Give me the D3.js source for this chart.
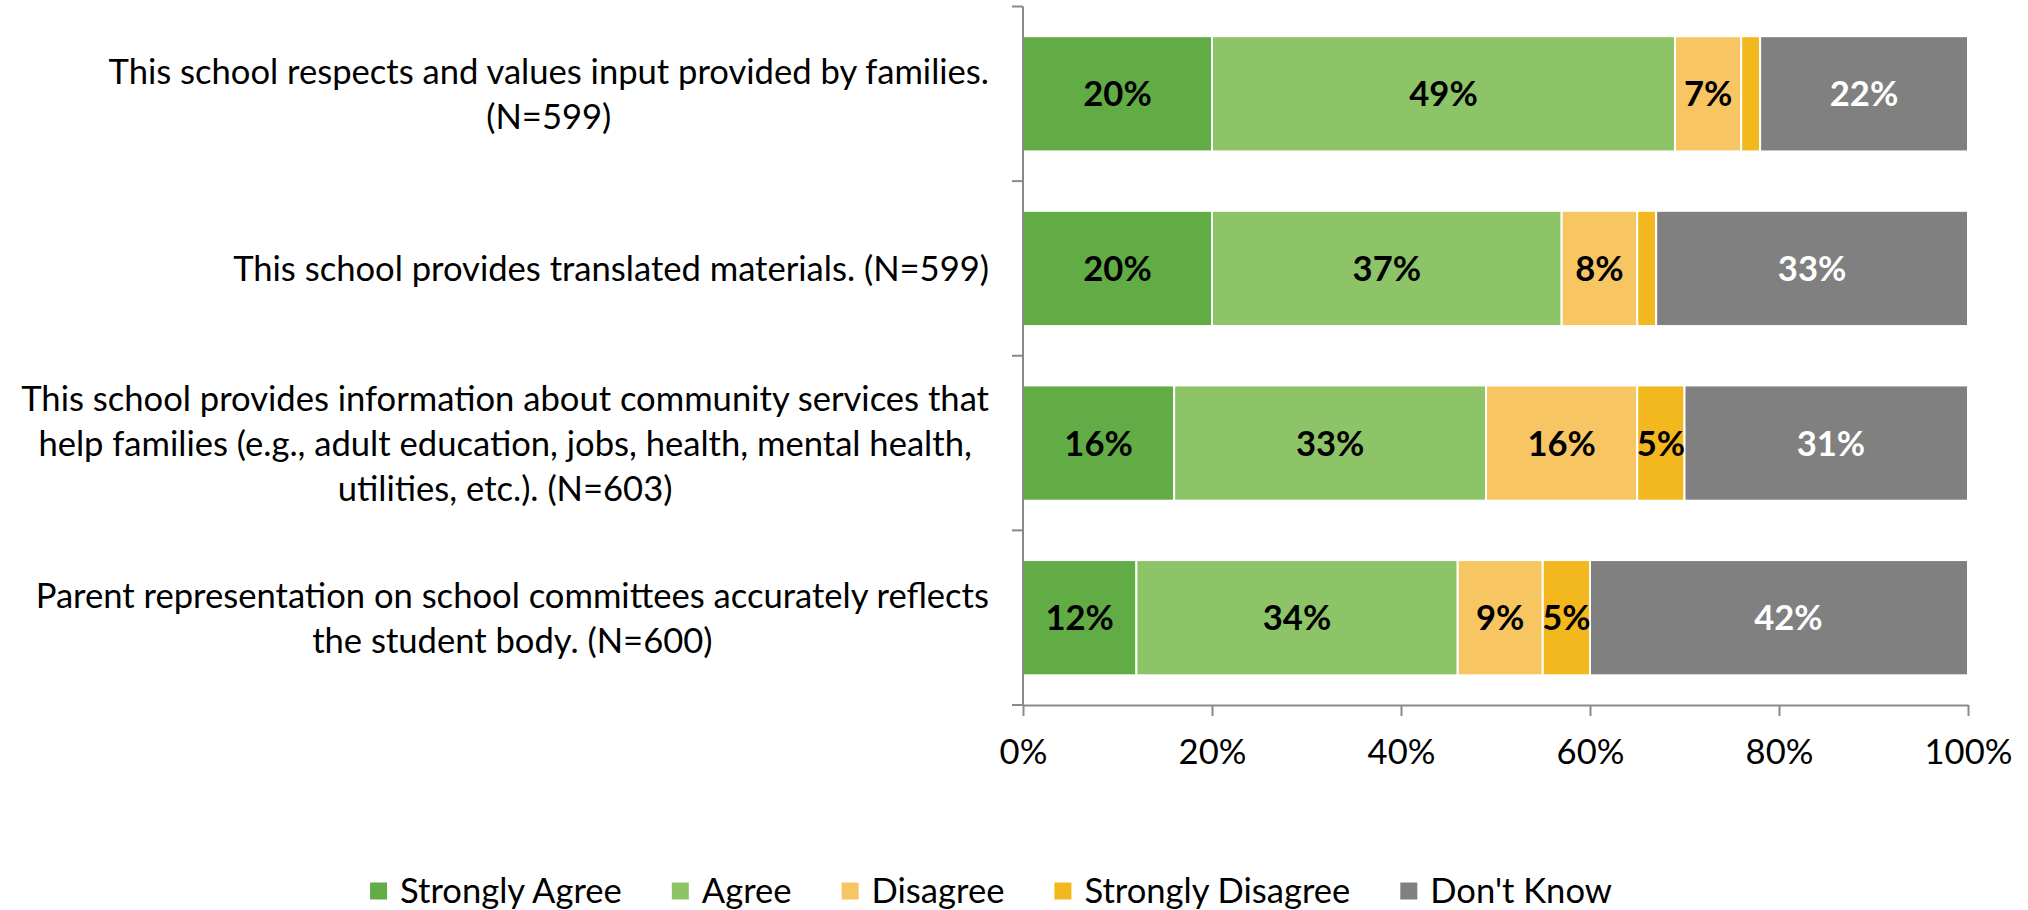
<!DOCTYPE html>
<html>
<head>
<meta charset="utf-8">
<script src="https://cdn.jsdelivr.net/npm/d3@7"></script>
<style>
  html, body { margin: 0; padding: 0; background: #fff; }
  svg { display: block; font-family: Lato, "Noto Sans", sans-serif; }
</style>
</head>
<body>
<svg id="chart" width="2028" height="910"></svg>
<script>
// ---- data ----
const categories = [
  ["This school respects and values input provided by families.", "(N=599)"],
  ["This school provides translated materials. (N=599)"],
  ["This school provides information about community services that",
   "help families (e.g., adult education, jobs, health, mental health,",
   "utilities, etc.). (N=603)"],
  ["Parent representation on school committees accurately reflects",
   "the student body. (N=600)"]
];
const seriesNames = ["Strongly Agree", "Agree", "Disagree", "Strongly Disagree", "Don't Know"];
const stronglyAgree    = [20, 20, 16, 12];
const agree            = [49, 37, 33, 34];
const disagree         = [7, 8, 16, 9];
const stronglyDisagree = [2, 2, 5, 5];
const dontKnow         = [22, 33, 31, 42];
const tickValues = [0, 20, 40, 60, 80, 100];
const tickLabels = ["0%", "20%", "40%", "60%", "80%", "100%"];

const seriesValues = [stronglyAgree, agree, disagree, stronglyDisagree, dontKnow];
const colors = ["#62AC46", "#8DC467", "#F7C663", "#F2B81E", "#808080"];
const labelColors = ["#000", "#000", "#000", "#000", "#fff"];

// ---- layout ----
const FS = 34.6;
const axisColor = "#8a8a8a";
const svg = d3.select("#chart");
const plot = { left: 1023, right: 1968, top: 6.5, bottom: 705 };

const x = d3.scaleLinear().domain([0, 100]).range([plot.left, plot.right]).clamp(true);
const xRaw = x.copy().clamp(false);
const y = d3.scaleBand().domain(d3.range(categories.length))
  .range([plot.top, plot.bottom]).paddingInner(0.34).paddingOuter(0.17);

// stacked data
const rows = categories.map((c, i) => {
  let acc = 0;
  return seriesValues.map((vals, s) => {
    const d = { row: i, series: s, value: vals[i], x0: acc, x1: acc + vals[i] };
    acc += vals[i];
    return d;
  });
});
const segs = rows.flat();

// bars
svg.append("g").selectAll("rect").data(segs).join("rect")
  .attr("x", d => x(d.x0))
  .attr("y", d => y(d.row))
  .attr("width", d => Math.max(0, x(d.x1) - x(d.x0)))
  .attr("height", y.bandwidth())
  .attr("fill", d => colors[d.series])
  .attr("stroke", "#fff")
  .attr("stroke-width", 2);

// bar labels
svg.append("g").selectAll("text").data(segs.filter(d => d.value >= 3)).join("text")
  .attr("x", d => (xRaw(d.x0) + xRaw(d.x1)) / 2)
  .attr("y", d => y(d.row) + y.bandwidth() / 2)
  .attr("dy", "0.36em")
  .attr("text-anchor", "middle")
  .attr("font-size", FS)
  .attr("font-weight", "bold")
  .attr("fill", d => labelColors[d.series])
  .text(d => d.value + "%");

// x axis
const xAxis = d3.axisBottom(x).tickValues(tickValues)
  .tickFormat((d, i) => tickLabels[i]).tickSizeInner(11).tickSizeOuter(0).tickPadding(23);
const gx = svg.append("g").attr("transform", `translate(0,${plot.bottom})`).call(xAxis);
gx.select(".domain").attr("stroke", axisColor).attr("stroke-width", 2);
gx.selectAll(".tick line").attr("stroke", axisColor).attr("stroke-width", 2);
gx.selectAll(".tick text").attr("font-size", FS).attr("fill", "#000")
  .attr("font-family", "Lato, 'Noto Sans', sans-serif");

// y axis (category axis with boundary ticks)
const gy = svg.append("g");
gy.append("line").attr("x1", plot.left).attr("x2", plot.left)
  .attr("y1", plot.top).attr("y2", plot.bottom)
  .attr("stroke", axisColor).attr("stroke-width", 2);
const bounds = d3.range(categories.length + 1).map(i => y.range()[0] + i * y.step());
gy.selectAll("line.tk").data(bounds).join("line").attr("class", "tk")
  .attr("x1", plot.left - 11).attr("x2", plot.left)
  .attr("y1", d => d).attr("y2", d => d)
  .attr("stroke", axisColor).attr("stroke-width", 2);

// category labels (centered lines, block right-aligned)
const lineH = 45;
const labelRight = 989;
categories.forEach((lines, i) => {
  const g = svg.append("g");
  const cy = y(i) + y.bandwidth() / 2;
  const texts = lines.map((ln, k) => g.append("text")
    .attr("font-size", FS).attr("fill", "#000")
    .attr("text-anchor", "middle")
    .attr("y", cy + (k - (lines.length - 1) / 2) * lineH)
    .attr("dy", "0.36em")
    .text(ln));
  const maxW = d3.max(texts, t => t.node().getComputedTextLength());
  texts.forEach(t => t.attr("x", labelRight - maxW / 2));
});

// legend
const legendY = 891;
const sq = 17;
const gap = 50;
const lg = svg.append("g");
let cx = 0;
seriesNames.forEach((name, i) => {
  const g = lg.append("g");
  g.append("rect").attr("x", 0).attr("y", legendY - sq / 2).attr("width", sq).attr("height", sq)
    .attr("fill", colors[i]);
  const t = g.append("text").attr("x", 30).attr("y", legendY).attr("dy", "0.36em")
    .attr("font-size", FS).attr("fill", "#000").text(name);
  const w = 30 + t.node().getComputedTextLength();
  g.attr("transform", `translate(${cx},0)`);
  cx += w + gap;
});
const totalW = cx - gap;
lg.attr("transform", `translate(${991 - totalW / 2},0)`);
</script>
</body>
</html>
